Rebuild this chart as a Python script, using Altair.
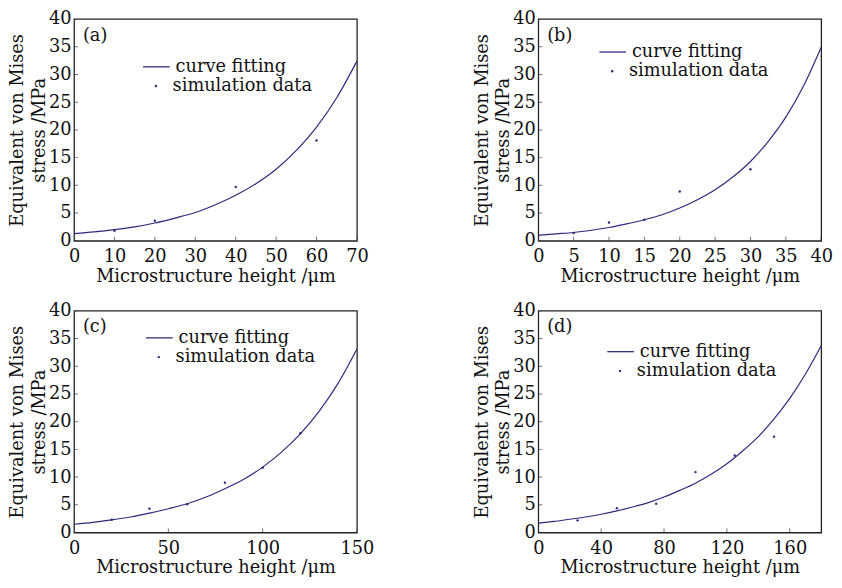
import altair as alt
import pandas as pd

NAVY = "#2b2b7d"
FONT = "DejaVu Serif"
FS = 18
INK = "#111111"

Y_TICKS = [0, 5, 10, 15, 20, 25, 30, 35, 40]

# ---- panel (a)
a_fit_x = [0, 5, 10, 15, 20, 25, 30, 35, 40, 45, 50, 55, 60, 65, 70]
a_fit_y = [1.3, 1.6, 2.0, 2.5, 3.2, 4.1, 5.1, 6.5, 8.2, 10.3, 12.9, 16.3, 20.5, 25.8, 32.4]
a_sim_x = [10, 20, 40, 60]
a_sim_y = [1.8, 3.6, 9.7, 18.1]
a_ticks = [0, 10, 20, 30, 40, 50, 60, 70]

# ---- panel (b)
b_fit_x = [0, 2.5, 5, 7.5, 10, 12.5, 15, 17.5, 20, 22.5, 25, 27.5, 30, 32.5, 35, 37.5, 40]
b_fit_y = [1.0, 1.25, 1.5, 1.9, 2.4, 3.05, 3.8, 4.7, 5.9, 7.4, 9.2, 11.5, 14.3, 17.9, 22.3, 27.9, 34.9]
b_sim_x = [5, 10, 15, 20, 30]
b_sim_y = [1.4, 3.3, 3.8, 8.9, 12.9]
b_ticks = [0, 5, 10, 15, 20, 25, 30, 35, 40]

# ---- panel (c)
c_fit_x = [0, 10, 20, 30, 40, 50, 60, 70, 80, 90, 100, 110, 120, 130, 140, 150]
c_fit_y = [1.5, 1.85, 2.3, 2.8, 3.5, 4.3, 5.2, 6.4, 7.9, 9.6, 11.8, 14.5, 17.8, 21.9, 26.9, 33.1]
c_sim_x = [20, 40, 60, 80, 100, 120]
c_sim_y = [2.3, 4.3, 5.1, 9.0, 11.7, 17.9]
c_ticks = [0, 50, 100, 150]

# ---- panel (d)
d_fit_x = [0, 10, 20, 30, 40, 50, 60, 70, 80, 90, 100, 110, 120, 130, 140, 150, 160, 170, 180]
d_fit_y = [1.7, 2.0, 2.4, 2.8, 3.3, 3.9, 4.6, 5.4, 6.4, 7.6, 8.9, 10.5, 12.4, 14.7, 17.3, 20.5, 24.2, 28.6, 33.7]
d_sim_x = [25, 50, 75, 100, 125, 150]
d_sim_y = [2.2, 4.4, 5.2, 10.9, 13.9, 17.3]
d_ticks = [0, 40, 80, 120, 160]

W, H = 287, 225


def panel(fx, fy, sx, sy, xmax, xticks, tag, lx, r1):
    fit = pd.DataFrame({"x": fx, "y": fy, "s": ["curve fitting"] * len(fx)})
    sim = pd.DataFrame({"x": sx, "y": sy, "s": ["simulation data"] * len(sx)})
    xs = alt.Scale(domain=[0, xmax], nice=False, zero=True)
    ys = alt.Scale(domain=[0, 40], nice=False)
    xaxis = alt.Axis(values=xticks, title="Microstructure height /μm",
                     labelPadding=7, titlePadding=2, format="d", labelFlush=False,
                     labelOverlap=False, titleFontSize=18)
    yaxis = alt.Axis(values=Y_TICKS, title=["Equivalent von Mises", "stress /MPa"],
                     labelPadding=3, titlePadding=0, titleLineHeight=22, labelFlush=False,
                     labelOverlap=False, titleFontSize=18, format="d")
    xenc = alt.X("x:Q", scale=xs, axis=xaxis)
    yenc = alt.Y("y:Q", scale=ys, axis=yaxis)
    line = alt.Chart(fit).mark_line(color=NAVY, strokeWidth=1.2, interpolate="monotone").encode(
        x=xenc, y=yenc,
        color=alt.Color("s:N", scale=alt.Scale(domain=["curve fitting"], range=[NAVY]),
                        legend=alt.Legend(orient="none", legendX=lx, legendY=r1 - 14, title=None,
                                          symbolType="stroke", symbolSize=729, symbolStrokeWidth=1.3,
                                          symbolStrokeColor=NAVY, labelOffset=5, padding=0,
                                          labelFont=FONT, labelFontSize=FS, labelColor=INK)))
    pts = alt.Chart(sim).mark_point(filled=True, size=6, color=NAVY, opacity=1).encode(
        x=xenc, y=yenc,
        shape=alt.Shape("s:N", scale=alt.Scale(domain=["simulation data"], range=["circle"]),
                        legend=alt.Legend(orient="none", legendX=lx + 5, legendY=r1 + 11, title=None,
                                          symbolSize=6, symbolFillColor=NAVY, symbolStrokeColor=NAVY,
                                          symbolStrokeWidth=0, labelOffset=8, padding=0,
                                          labelFont=FONT, labelFontSize=FS, labelColor=INK)))
    xt = alt.Chart(pd.DataFrame({"x": xticks})).mark_tick(
        orient="vertical", size=8, thickness=1, color="#333", clip=True).encode(
        x=xenc, y=alt.value(H))
    yt = alt.Chart(pd.DataFrame({"y": Y_TICKS})).mark_tick(
        orient="horizontal", size=8, thickness=1, color="#333", clip=True).encode(
        y=yenc, x=alt.value(0))
    tg = alt.Chart(pd.DataFrame({"tag": [tag]})).mark_text(
        font=FONT, fontSize=18, color=INK, align="left", baseline="middle").encode(
        text="tag:N", x=alt.value(9), y=alt.value(17))
    return alt.layer(line, pts, xt, yt, tg).properties(width=W, height=H)


pa = panel(a_fit_x, a_fit_y, a_sim_x, a_sim_y, 70, a_ticks, "(a)", 69, 48)
pb = panel(b_fit_x, b_fit_y, b_sim_x, b_sim_y, 40, b_ticks, "(b)", 61, 33)
pc = panel(c_fit_x, c_fit_y, c_sim_x, c_sim_y, 150, c_ticks, "(c)", 72, 27)
pd_ = panel(d_fit_x, d_fit_y, d_sim_x, d_sim_y, 180, d_ticks, "(d)", 69, 41)

chart = alt.concat(pa, pb, pc, pd_, columns=2, spacing={"row": 71, "column": 184},
                   bounds="flush").resolve_scale(
    color="independent", shape="independent"
).properties(
    padding={"left": 0, "top": -3, "right": 0, "bottom": 0}
).configure_view(
    stroke="#222222", strokeWidth=1.3
).configure_axis(
    labelFont=FONT, labelFontSize=FS, labelColor=INK,
    titleFont=FONT, titleFontSize=FS, titleFontWeight="normal", titleColor=INK,
    tickSize=0, domain=False, grid=False,
)

chart.save("out.html", embed_options={"renderer": "svg", "actions": False})
